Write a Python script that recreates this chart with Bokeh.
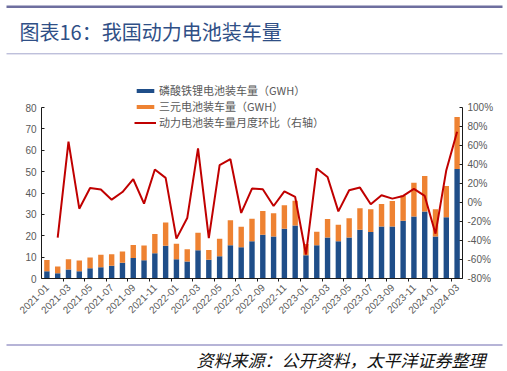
import math
from bokeh.plotting import figure
from bokeh.models import (ColumnDataSource, Range1d, LinearAxis, FixedTicker,
                          PrintfTickFormatter, Legend, LegendItem)
from bokeh.embed import file_html
from bokeh.resources import INLINE
from bokeh.core.properties import value

# ---------------- data ----------------
months = ["2021-01", "2021-02", "2021-03", "2021-04", "2021-05", "2021-06",
          "2021-07", "2021-08", "2021-09", "2021-10", "2021-11", "2021-12",
          "2022-01", "2022-02", "2022-03", "2022-04", "2022-05", "2022-06",
          "2022-07", "2022-08", "2022-09", "2022-10", "2022-11", "2022-12",
          "2023-01", "2023-02", "2023-03", "2023-04", "2023-05", "2023-06",
          "2023-07", "2023-08", "2023-09", "2023-10", "2023-11", "2023-12",
          "2024-01", "2024-02", "2024-03"]

lfp = [3.4, 2.5, 4.2, 3.4, 4.8, 5.3, 6.0, 7.4, 9.6, 8.5, 11.8, 15.3,
       9.0, 7.9, 13.2, 8.8, 10.4, 15.5, 14.6, 17.4, 20.5, 19.7, 23.3, 24.8,
       10.9, 15.5, 19.2, 17.4, 19.2, 22.8, 21.7, 24.3, 24.3, 27.0, 29.0, 31.3,
       19.7, 28.7, 51.2]

ternary = [5.3, 3.1, 4.8, 5.0, 5.0, 5.8, 5.3, 5.2, 6.1, 6.9, 9.0, 10.9,
           7.2, 5.8, 8.2, 4.5, 8.2, 11.7, 9.6, 10.6, 11.1, 10.8, 11.0, 11.6,
           5.2, 6.4, 8.6, 7.7, 9.0, 10.1, 10.7, 10.6, 12.0, 11.8, 15.8, 16.6,
           12.7, 14.6, 24.3]

mom = [float("nan"), -37, 64, -6.5, 15.3, 13.6, 3, 11, 24.5, -1.2, 34.7, 25.9,
       -38, -16.4, 56.9, -37.5, 39.3, 45.6, -11, 14.7, 13.9, -3.7, 11.8, 5.8,
       -54.7, 35.8, 26.9, -9.3, 12.9, 15.7, -1.9, 7.6, 4.1, 6.9, 14.3, 6.9,
       -32.8, 34, 74.4]

left_ticks = [0, 10, 20, 30, 40, 50, 60, 70, 80]
right_ticks = [-80, -60, -40, -20, 0, 20, 40, 60, 80, 100]

TITLE = "图表16：我国动力电池装车量"
SOURCE = "资料来源：公开资料，太平洋证券整理"
legend_labels = ["磷酸铁锂电池装车量（GWH）", "三元电池装车量（GWH）",
                 "动力电池装车量月度环比（右轴）"]

# ---------------- styles / layout ----------------
BLUE = "#1f4e89"
ORANGE = "#ee8232"
RED = "#c00000"
GRAY = "#595959"
AXIS = "#1a1a1a"
CJK = "Noto Sans CJK SC"
W = 507
HEAD_H, MAIN_H, FOOT_H = 58, 280, 33

# main frame geometry (pixels within the main figure)
AXIS_TOP = 107 - HEAD_H      # where 80 / 100% sit
FRAME_TOP = 79 - HEAD_H      # frame extended upward to hold the legend
FRAME_BOTTOM = 278 - HEAD_H
axis_px = FRAME_BOTTOM - AXIS_TOP
frame_px = FRAME_BOTTOM - FRAME_TOP
stretch = frame_px / axis_px

# ---------------- header ----------------
h = figure(width=W, height=HEAD_H, x_range=Range1d(0, W), y_range=Range1d(HEAD_H, 0),
           output_backend="svg", toolbar_location=None, min_border=0,
           x_axis_location=None, y_axis_location=None)
h.grid.visible = False
h.outline_line_color = None
h.segment(x0=[6], y0=[6.2], x1=[502], y1=[6.2], line_color="#6e6f9f", line_width=2.5)
h.segment(x0=[6], y0=[53.3], x1=[502], y1=[53.3], line_color="#a3a5cc", line_width=1)
h.text(x=[19], y=[31], text=[TITLE], text_font=value(CJK), text_font_size="20px",
       text_color="#2f4f86", text_baseline="middle", text_align="left")

# ---------------- main chart ----------------
src = ColumnDataSource(dict(idx=list(range(len(months))), lfp=lfp,
                            ternary=ternary, mom=mom))

p = figure(width=W, height=MAIN_H, x_range=Range1d(-0.5, len(months) - 0.5),
           y_range=Range1d(left_ticks[0],
                           left_ticks[0] + (left_ticks[-1] - left_ticks[0]) * stretch),
           output_backend="svg", toolbar_location=None,
           min_border_left=41, min_border_right=W - 462,
           min_border_top=FRAME_TOP, min_border_bottom=MAIN_H - FRAME_BOTTOM)
p.grid.visible = False
p.outline_line_color = None

bars = p.vbar_stack(["lfp", "ternary"], x="idx", width=0.5,
                    color=[BLUE, ORANGE], source=src, line_width=0)

p.extra_y_ranges = {"pct": Range1d(right_ticks[0],
                                   right_ticks[0] + (right_ticks[-1] - right_ticks[0]) * stretch)}
ln = p.line("idx", "mom", source=src, y_range_name="pct",
            line_color=RED, line_width=2)

right = LinearAxis(y_range_name="pct", ticker=FixedTicker(ticks=right_ticks),
                   formatter=PrintfTickFormatter(format="%d%%"),
                   bounds=(right_ticks[0], right_ticks[-1]))
p.add_layout(right, "right")

p.yaxis[0].ticker = FixedTicker(ticks=left_ticks)
p.yaxis[0].bounds = (left_ticks[0], left_ticks[-1])

for ax in p.yaxis:
    ax.axis_line_color = AXIS
    ax.major_tick_in = 3
    ax.major_tick_out = 0
    ax.minor_tick_line_color = None
    ax.major_tick_line_color = AXIS
    ax.major_label_text_color = GRAY
    ax.major_label_text_font = "Liberation Sans"
    ax.major_label_text_font_size = "10px"
    ax.major_label_standoff = 5

xa = p.xaxis[0]
xa.ticker = FixedTicker(ticks=list(range(0, len(months), 2)),
                        minor_ticks=[i + 0.5 for i in range(1, len(months) - 1, 2)])
xa.major_label_overrides = {i: months[i] for i in range(0, len(months), 2)}
xa.major_label_orientation = math.pi / 4
xa.major_tick_in = 0
xa.major_tick_out = 0
xa.minor_tick_in = 0
xa.minor_tick_out = 3
xa.minor_tick_line_color = AXIS
xa.axis_line_color = AXIS
xa.major_label_text_color = GRAY
xa.major_label_text_font = "Liberation Sans"
xa.major_label_text_font_size = "10px"
xa.major_label_standoff = 4

# one single-row legend per entry, so each row can be placed exactly
ROW_H = 16
row_centres = [90, 106.2, 122.4]         # page y of each legend row
legend_renderers = [bars[0], bars[1], ln]
for lab, rend, yc in zip(legend_labels, legend_renderers, row_centres):
    lg = Legend(items=[LegendItem(label=lab, renderers=[rend])],
                location=(134 - 41, 278 - (yc + ROW_H / 2)),
                padding=0, margin=0, spacing=0,
                glyph_width=22, glyph_height=5, label_height=12,
                label_standoff=3, label_text_font=CJK,
                label_text_font_size="11px", label_text_color=GRAY,
                background_fill_alpha=0, border_line_color=None)
    p.add_layout(lg, "center")

# ---------------- footer ----------------
f = figure(width=W, height=FOOT_H, x_range=Range1d(0, W), y_range=Range1d(FOOT_H, 0),
           output_backend="svg", toolbar_location=None, min_border=0,
           x_axis_location=None, y_axis_location=None)
f.grid.visible = False
f.outline_line_color = None
f.segment(x0=[6], y0=[6.5], x1=[502], y1=[6.5], line_color="#6e6ab0", line_width=1.2)
f.text(x=[340.5], y=[20.5], text=[SOURCE], text_font=value(CJK), text_font_size="17px",
       text_font_style="italic", text_color="#111111", text_baseline="middle",
       text_align="center")

open("out.html", "w").write(file_html([h, p, f], INLINE))
